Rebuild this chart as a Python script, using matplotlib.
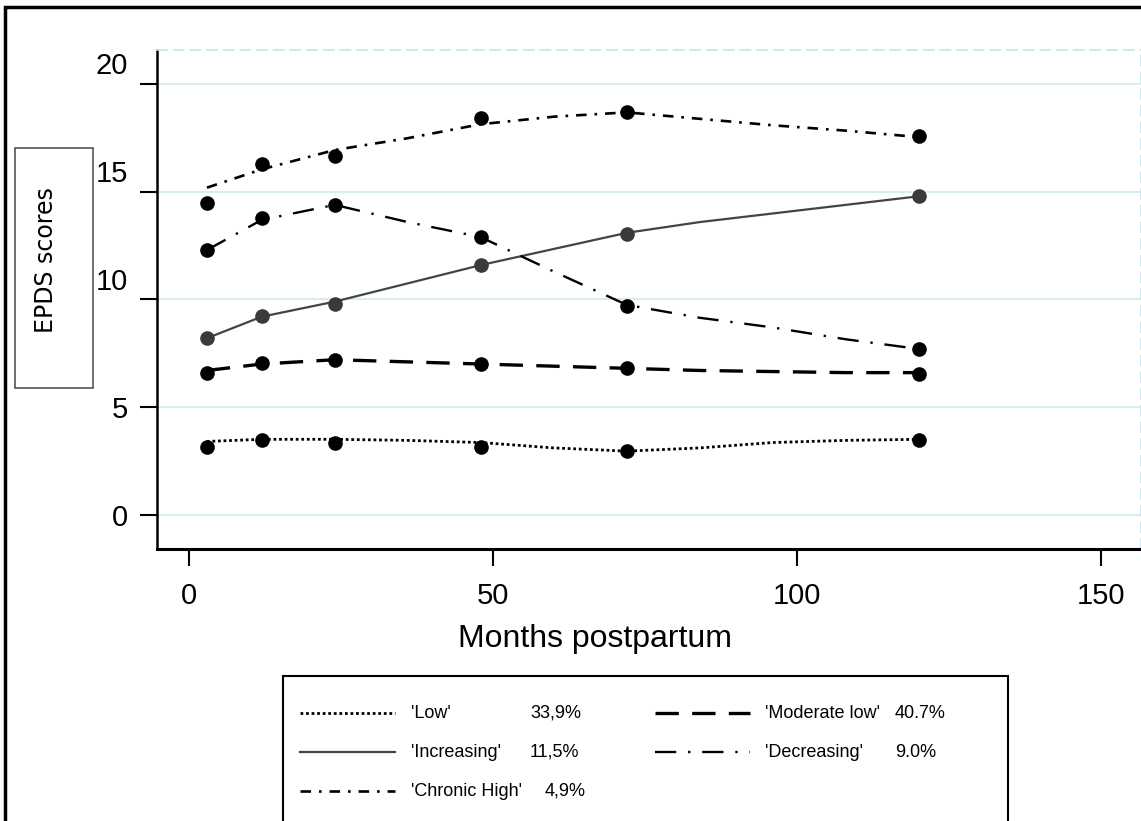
import matplotlib
matplotlib.use("Agg")
import matplotlib.pyplot as plt
from matplotlib.patches import Rectangle
from matplotlib.lines import Line2D
from matplotlib.transforms import ScaledTranslation

plt.rcParams['font.family'] = ['Liberation Sans', 'DejaVu Sans']

# observed means at each assessment (months postpartum)
months = [3, 12, 24, 48, 72, 120]
low_obs = [3.15, 3.45, 3.35, 3.15, 2.95, 3.45]
modlow_obs = [6.6, 7.05, 7.2, 7.0, 6.8, 6.55]
incr_obs = [8.2, 9.25, 9.8, 11.6, 13.05, 14.8]
decr_obs = [12.3, 13.8, 14.4, 12.9, 9.7, 7.7]
chron_obs = [14.5, 16.3, 16.65, 18.45, 18.7, 17.6]

# fitted trajectories
fit_months = [3, 12, 24, 36, 48, 60, 72, 84, 96, 108, 120]
low_fit = [3.4, 3.5, 3.5, 3.45, 3.35, 3.1, 2.95, 3.1, 3.35, 3.45, 3.5]
modlow_fit = [6.7, 7.0, 7.2, 7.1, 7.0, 6.9, 6.8, 6.7, 6.65, 6.6, 6.6]
incr_fit = [8.2, 9.2, 9.9, 10.75, 11.6, 12.35, 13.1, 13.6, 14.0, 14.4, 14.8]
decr_fit = [12.3, 13.7, 14.4, 13.6, 12.9, 11.3, 9.75, 9.15, 8.7, 8.15, 7.7]
chron_fit = [15.2, 16.05, 16.95, 17.5, 18.15, 18.5, 18.7, 18.4, 18.1, 17.85, 17.55]

names = ["'Low'", "'Moderate low'", "'Increasing'", "'Decreasing'", "'Chronic High'"]
shares = ["33,9%", "40.7%", "11,5%", "9.0%", "4,9%"]

styles = [
    dict(ls=(0, (1, 1)), lw=2.0, color='black', mc='black'),
    dict(ls=(0, (7, 4)), lw=2.4, color='black', mc='black'),
    dict(ls='-', lw=1.6, color='#444444', mc='#3a3a3a'),
    dict(ls=(0, (9, 5, 1, 5)), lw=1.7, color='black', mc='black'),
    dict(ls=(0, (4, 3, 1, 3)), lw=1.9, color='black', mc='black'),
]

fig = plt.figure(figsize=(11.41, 8.21), dpi=100)
W, H = 1141, 821

def fx(px):
    return px / W

def fy(py):
    return 1 - py / H

ax = fig.add_axes([fx(157), fy(549), fx(1141 - 157), (549 - 50) / H])

fits = [low_fit, modlow_fit, incr_fit, decr_fit, chron_fit]
obs = [low_obs, modlow_obs, incr_obs, decr_obs, chron_obs]
for fit, ob, st in zip(fits, obs, styles):
    ax.plot(fit_months, fit, linestyle=st['ls'], lw=st['lw'], color=st['color'], zorder=3)
    ax.plot(months, ob, 'o', ms=9.5, color=st['mc'], zorder=4)

ax.set_xlim(-5.2, 156.5)
ax.set_ylim(-1.6, 21.6)
ax.set_xticks([0, 50, 100, 150])
ax.set_yticks([0, 5, 10, 15, 20])
ax.yaxis.grid(True, color='#d6ecf0', lw=1.3)
ax.set_axisbelow(True)
ax.tick_params(axis='both', direction='out', length=12, width=1.5, labelsize=21, pad=12)
ax.tick_params(axis='y', pad=9)
ax.spines['left'].set_linewidth(1.8)
ax.spines['bottom'].set_linewidth(2.2)
for side in ['top', 'right']:
    ax.spines[side].set_color('#c5e3ea')
    ax.spines[side].set_linestyle((0, (6, 4)))
    ax.spines[side].set_linewidth(1.2)
ax.set_xlabel('Months postpartum', fontsize=23)
ax.xaxis.set_label_coords(0.445, -0.15)

# the upper y labels sit a little above their ticks in the original
lift = ScaledTranslation(0, 21 / 100, fig.dpi_scale_trans)
for lab in ax.get_yticklabels():
    if lab.get_text() in ('10', '15', '20'):
        lab.set_transform(lab.get_transform() + lift)

# y label in its own box
fig.patches.append(Rectangle((fx(15), fy(388)), fx(93 - 15), (388 - 148) / H,
                             transform=fig.transFigure, fill=False, ec='#555555', lw=1.2))
fig.text(fx(46), fy(260), 'EPDS scores', rotation=90, ha='center', va='center',
         fontsize=17, family='DejaVu Sans')

# outer frame
fig.patches.append(Rectangle((fx(5), fy(900)), fx(1200), (900 - 7) / H,
                             transform=fig.transFigure, fill=False, ec='black', lw=2.5))

# legend box
fig.patches.append(Rectangle((fx(283), fy(900)), fx(1008 - 283), (900 - 676) / H,
                             transform=fig.transFigure, fill=False, ec='black', lw=1.5))
rows = [713, 752, 791]
slots = [(0, 0), (0, 1), (1, 0), (1, 1), (2, 0)]
pct_x = [530, 895, 530, 895, 545]
for i, (r, c) in enumerate(slots):
    y = fy(rows[r])
    x0, x1, xt = (300, 395, 411) if c == 0 else (655, 750, 765)
    st = styles[i]
    fig.lines.append(Line2D([fx(x0), fx(x1)], [y, y], transform=fig.transFigure,
                            linestyle=st['ls'], lw=st['lw'], color=st['color']))
    fig.text(fx(xt), y, names[i], ha='left', va='center', fontsize=13)
    fig.text(fx(pct_x[i]), y, shares[i], ha='left', va='center', fontsize=13)

fig.savefig('out.png', dpi=100)
